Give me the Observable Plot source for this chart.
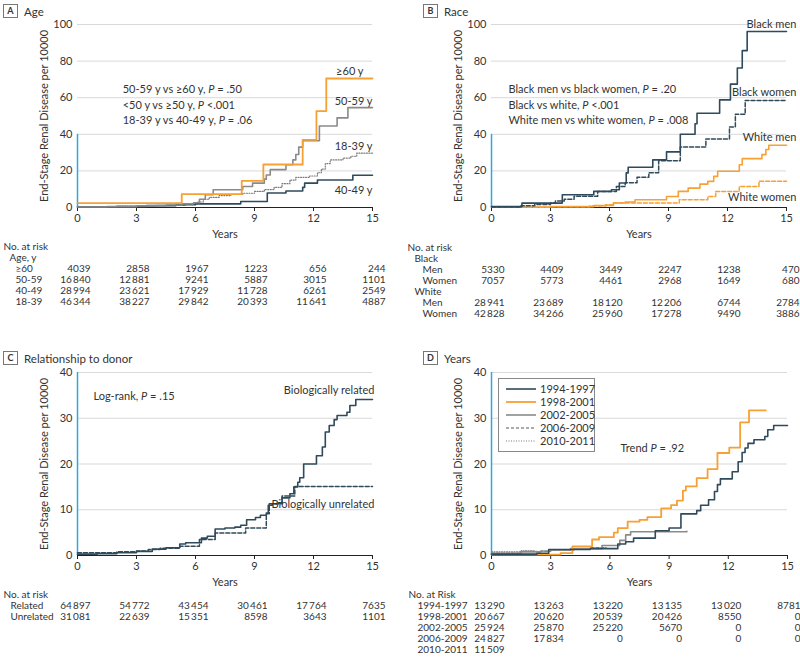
<!DOCTYPE html>
<html><head><meta charset="utf-8">
<script src="https://cdn.jsdelivr.net/npm/d3@7"></script>
<script src="https://cdn.jsdelivr.net/npm/@observablehq/plot@0.6"></script>
<style>
body{margin:0;background:#fff;}
#fig{position:relative;width:800px;height:659px;font-family:Lato,"Open Sans",sans-serif;color:#333;overflow:hidden;}
.ptitle{position:absolute;font-size:11.5px;display:flex;align-items:center;color:#333;white-space:nowrap;}
.ptitle .box{display:inline-block;box-sizing:border-box;border:1px solid #777;width:15px;height:14px;line-height:12px;text-align:center;font-size:9px;font-weight:bold;margin-right:6px;}
.legend{position:absolute;box-sizing:border-box;border:1px solid #888;background:#fff;font-size:11px;padding:3px 0 0 7px;white-space:nowrap;}
.legend .it{display:flex;align-items:center;height:13px;white-space:nowrap;}
.legend svg{margin-right:4px;flex:none;}
</style></head><body><div id="fig"></div><script>
// ---------------- DATA ----------------
const xTicks = [0, 3, 6, 9, 12, 15];
const riskYears = [0, 3, 6, 9, 12, 15];

// Panel A: Age  [year, cumulative ESRD per 10000]
const ageGE60 = [[0,2.4],[5.3,7.3],[8.35,14.5],[9.45,23.5],[11.45,37],[12.15,52.7],[12.65,70.5],[15,70.5]];
const age5059 = [[0,0.3],[1.5,0.5],[3,0.9],[4.5,1.4],[5.3,2],[5.9,2.6],[6.2,4.5],[6.5,7],[6.9,9.7],[8.4,11.5],[8.9,13.3],[9.5,15.5],[9.6,17.8],[9.8,20.7],[10.6,23.4],[10.95,26],[11.1,29],[11.25,33],[11.45,36.5],[12.3,44.5],[13.2,49],[13.75,54.6],[15,54.6]];
const age1839 = [[0,0.4],[2,0.7],[4,1.2],[5.5,2],[6.1,3],[6.4,4.5],[6.7,5.5],[7.2,6.5],[7.8,7.2],[8.4,7.8],[9,8.8],[9.5,9.8],[10,11],[10.4,13],[10.8,15],[11.1,16.5],[11.8,17.2],[12.2,19],[12.4,21],[12.6,24],[12.85,26],[13.5,27],[13.9,28],[14.2,29.7],[15,29.7]];
const age4049 = [[0,0.2],[2,0.5],[3.5,1],[5,1.5],[6,2],[8.3,3.3],[9.65,7.9],[10.6,9],[11.45,11],[11.55,13.3],[12.2,15],[14,17.6],[15,17.6]];
const ageNotes = ["50-59 y vs ≥60 y, P = .50", "<50 y vs ≥50 y, P <.001", "18-39 y vs 40-49 y, P = .06"];
const ageRowLabels = ["≥60", "50-59", "40-49", "18-39"];
const ageRisk = [
  [4039, 2858, 1967, 1223, 656, 244],
  [16840, 12881, 9241, 5887, 3015, 1101],
  [28994, 23621, 17929, 11728, 6261, 2549],
  [46344, 38227, 29842, 20393, 11641, 4887]
];

// Panel B: Race
const blackMen = [[0,0.5],[1.55,2.4],[3.6,7],[5.2,8.8],[6.1,9.7],[6.5,13.4],[6.85,18.9],[6.95,22],[8.2,26],[8.9,30.4],[9.6,40],[10.35,45.8],[10.45,51.5],[11.6,58.8],[12.15,67.4],[12.5,76.2],[12.75,85.7],[13,96.2],[15,96.2]];
const blackWomen = [[0,0.3],[1.5,1],[2.2,1.7],[3,2.5],[3.25,3.5],[3.7,4.5],[4.2,6.2],[5.4,8.8],[6.35,11.5],[6.8,13.5],[7.4,16.5],[8,19],[8.5,25.5],[9.6,33],[10.9,37.5],[12.1,44],[12.4,51],[12.9,58.5],[15,58.5]];
const whiteMen = [[0,0.3],[3,0.5],[5.2,1.1],[6.2,2.5],[6.8,3],[7.3,4.2],[8.9,6],[9.5,8.8],[10,10.6],[10.6,12.8],[11,14.3],[11.3,17],[11.5,19.8],[12.6,23.4],[12.75,26.7],[13.75,28.9],[13.95,31.7],[14.1,34],[15,34]];
const whiteWomen = [[0,0.2],[3,0.4],[5,0.8],[5.8,1.5],[6.2,2.5],[9.55,4.2],[11,6],[11.4,8.8],[12.6,11.5],[13.6,14.3],[15,14.3]];
const raceNotes = ["Black men vs black women, P = .20", "Black vs white, P <.001", "White men vs white women, P = .008"];
const raceGroups = ["Black", "White"];
const raceSexes = ["Men", "Women"];
const raceRisk = [
  [5330, 4409, 3449, 2247, 1238, 470],
  [7057, 5773, 4461, 2968, 1649, 680],
  [28941, 23689, 18120, 12206, 6744, 2784],
  [42828, 34266, 25960, 17278, 9490, 3886]
];

// Panel C: Relationship to donor
const related = [[0,0.3],[1,0.4],[2,0.6],[3,0.9],[3.8,1.4],[4.5,1.7],[5.2,2.5],[5.5,2.8],[6.3,3.8],[6.6,4.2],[7,5.8],[7.5,6],[8,6.2],[8.3,6.6],[8.6,7.8],[9.05,8.3],[9.3,8.8],[9.6,9.3],[9.7,11],[9.9,11.3],[10.2,11.5],[10.4,12.6],[10.8,13.5],[11,15],[11.2,16],[11.3,17],[11.5,20],[12.15,21.8],[12.45,23.7],[12.6,27],[12.8,28.4],[13.05,29.7],[13.2,30.6],[13.7,31.3],[13.85,32.8],[14.15,34.1],[15,34.1]];
const unrelated = [[0,0.6],[2,0.8],[3,1],[3.6,1.3],[4.2,1.6],[5.2,2],[6.2,3.5],[7,4.9],[8.55,6],[9.6,9.1],[9.75,11.3],[10.4,13],[11.05,15.1],[15,15.1]];
const donorRowLabels = ["Related", "Unrelated"];
const donorRisk = [
  [64897, 54772, 43454, 30461, 17764, 7635],
  [31081, 22639, 15351, 8598, 3643, 1101]
];

// Panel D: Years of donation
const eraLabels = ["1994-1997", "1998-2001", "2002-2005", "2006-2009", "2010-2011"];
const era9497 = [[0,0.3],[2.3,0.5],[2.9,1.3],[5,1.5],[6.4,2.5],[6.8,3],[7.2,3.8],[8.3,5.4],[9,6],[9.6,9.1],[10.4,9.8],[10.6,11],[11,12.2],[11.3,14],[11.45,15.5],[11.6,16.75],[12.2,18.3],[12.5,20.5],[12.7,22.5],[12.85,23.5],[13,24.5],[13.3,25.3],[13.85,26],[14,27.5],[14.3,28.4],[15,28.4]];
const era9801 = [[0,0.2],[3.5,0.5],[4.1,2],[5.1,3.5],[5.45,4],[6.2,5],[6.4,6],[6.9,7.4],[7.5,7.8],[7.9,8.4],[8.6,10.3],[9.1,11],[9.4,12],[9.7,14.2],[9.85,15.1],[10.4,16.9],[10.95,18.9],[11.45,22.4],[12.05,23.6],[12.6,29.1],[13.05,31.7],[13.9,31.7]];
const era0205 = [[0,0.5],[1.5,0.8],[2.5,1],[3,1.2],[4,1.5],[5.6,2.2],[6.5,3.3],[6.8,4.5],[7.05,5.2],[9.9,5.3]];
const era0609 = [[0,0.5],[1.5,0.9],[3,1.2],[4.2,1.5],[5,1.7],[5.8,1.8]];
const era1011 = [[0,0.8],[1.5,1],[2.2,1.1]];
const eraRisk = [
  [13290, 13263, 13220, 13135, 13020, 8781],
  [20667, 20620, 20539, 20426, 8550, 0],
  [25924, 25870, 25220, 5670, 0, 0],
  [24827, 17834, 0, 0, 0, 0],
  [11509]
];

// ---------------- DRAWING ----------------
const FONT = "Lato, 'Open Sans', sans-serif";
const SLATE = "#2f4a5b", ORANGE = "#f7a033", GRAY = "#8a8a8a", DOT = "#7a7a7a";
const fig = document.getElementById("fig");
const baseStyle = {background: "transparent", fontFamily: FONT, fontSize: "11px", color: "#333", overflow: "visible"};
const tableStyle = {...baseStyle, fontSize: "10px"};
const fmt = n => n >= 10000 ? d3.format(",")(n).replace(",", "\u2009") : String(n);

function place(el, left, top) {
  el.style.position = "absolute"; el.style.left = left + "px"; el.style.top = top + "px";
  fig.appendChild(el);
}
function italicP(svg) {
  svg.querySelectorAll("text").forEach(t => {
    if (t.children.length) return;
    const s = t.textContent, i = s.search(/P [=<]/);
    if (i < 0) return;
    t.textContent = "";
    const NS = "http://www.w3.org/2000/svg";
    [[s.slice(0, i), null], ["P", "italic"], [s.slice(i + 1), null]].forEach(([txt, st]) => {
      if (!txt) return;
      const sp = document.createElementNS(NS, "tspan");
      if (st) sp.setAttribute("font-style", st);
      sp.textContent = txt; t.appendChild(sp);
    });
  });
}
function title(letter, text, left, top) {
  const d = document.createElement("div");
  d.className = "ptitle";
  d.innerHTML = `<span class="box">${letter}</span><span>${text}</span>`;
  place(d, left, top);
}
function chart({left, top, ml, mr, ymax, yticks, lines, notes}) {
  const svg = Plot.plot({
    width: 400, height: 241, marginLeft: ml, marginRight: mr, marginTop: 24, marginBottom: 34,
    style: baseStyle,
    x: {domain: [0, 15]},
    y: {domain: [0, ymax]},
    marks: [
      Plot.gridY({ticks: yticks.filter(d => d > 0), stroke: "#d9d9d9", strokeOpacity: 1}),
      Plot.axisY({ticks: yticks, tickSize: 0, tickPadding: 5, label: "End-Stage Renal Disease per 10000", labelAnchor: "center", labelOffset: 37, labelArrow: "none", fill: "#333"}),
      Plot.axisX({ticks: xTicks, tickSize: 4, tickPadding: 3, label: "Years", labelAnchor: "center", labelOffset: 30, labelArrow: "none", stroke: "#222", fill: "#333"}),
      Plot.ruleY([0], {stroke: "#222", strokeWidth: 1}),
      Plot.ruleX([0], {y1: 0, y2: 40, stroke: "#2aa8e0", strokeWidth: 1.5}),
      ...lines.map(l => Plot.line(l.data, {x: d => d[0], y: d => d[1], curve: "step-after", stroke: l.stroke, strokeWidth: l.w, strokeDasharray: l.dash})),
      ...notes
    ]
  });
  italicP(svg);
  place(svg, left, top);
}
function table({left, top, ml, mr, height, rows}) {
  const cells = rows.filter(r => r.values).flatMap(r => r.values.map((n, i) => ({key: r.key, t: riskYears[i], n})));
  const xs = [...new Set(rows.map(r => r.x))];
  const svg = Plot.plot({
    width: 400, height, marginLeft: ml, marginRight: mr, marginTop: 9, marginBottom: 10,
    style: tableStyle,
    x: {domain: [0, 15], axis: null},
    y: {type: "point", domain: rows.map(r => r.key), axis: null, padding: 0},
    marks: [
      Plot.text(cells, {x: "t", y: "key", text: d => fmt(d.n), textAnchor: "end", dx: 13, fill: "#333"}),
      ...xs.map(px => Plot.text(rows.filter(r => r.x === px), {y: "key", text: "label", frameAnchor: "left", textAnchor: "start", dx: px - ml, fill: "#333"}))
    ]
  });
  place(svg, left, top);
}
const noteStack = (lines, x, ys) => Plot.text(lines.map((t, i) => ({t, y: ys[i]})), {x: () => x, y: "y", text: "t", textAnchor: "start", fill: "#333"});
const endLabel = (items, anchor) => Plot.text(items, {x: "x", y: "y", text: "t", textAnchor: anchor, fill: "#333"});

// Panel A
title("A", "Age", 3, 4);
chart({left: 0, top: 0, ml: 77, mr: 28, ymax: 100, yticks: [0, 20, 40, 60, 80, 100],
  lines: [
    {data: age1839, stroke: DOT, w: 1.2, dash: "1,1.5"},
    {data: age4049, stroke: SLATE, w: 1.6},
    {data: age5059, stroke: GRAY, w: 1.6},
    {data: ageGE60, stroke: ORANGE, w: 1.8}
  ],
  notes: [
    noteStack(ageNotes, 2.3, [64.3, 56, 47.8]),
    endLabel([{x: 13.15, y: 74.5, t: "≥60 y"}], "start"),
    endLabel([{x: 15, y: 58.2, t: "50-59 y"}, {x: 15, y: 33.5, t: "18-39 y"}, {x: 15, y: 9.3, t: "40-49 y"}], "end")
  ]});
table({left: 0, top: 236, ml: 77, mr: 28, height: 76, rows: [
  {key: "h", label: "No. at risk", x: 3},
  {key: "g", label: "Age, y", x: 9},
  ...ageRowLabels.map((l, i) => ({key: "r" + i, label: l, x: 15, values: ageRisk[i]}))
]});

// Panel B
title("B", "Race", 423, 4);
chart({left: 400, top: 0, ml: 91, mr: 14, ymax: 100, yticks: [0, 20, 40, 60, 80, 100],
  lines: [
    {data: whiteWomen, stroke: ORANGE, w: 1.5, dash: "4,2"},
    {data: whiteMen, stroke: ORANGE, w: 1.6},
    {data: blackWomen, stroke: SLATE, w: 1.5, dash: "4,2"},
    {data: blackMen, stroke: SLATE, w: 1.6}
  ],
  notes: [
    noteStack(raceNotes, 0.86, [64.3, 56, 47.8]),
    endLabel([{x: 15.5, y: 100, t: "Black men"}, {x: 15.5, y: 62.6, t: "Black women"}, {x: 15.5, y: 38.5, t: "White men"}, {x: 15.5, y: 5.5, t: "White women"}], "end")
  ]});
table({left: 400, top: 236, ml: 91, mr: 14, height: 89, rows: [
  {key: "h", label: "No. at risk", x: 7},
  {key: "g0", label: raceGroups[0], x: 14},
  {key: "r0", label: raceSexes[0], x: 22, values: raceRisk[0]},
  {key: "r1", label: raceSexes[1], x: 22, values: raceRisk[1]},
  {key: "g1", label: raceGroups[1], x: 14},
  {key: "r2", label: raceSexes[0], x: 22, values: raceRisk[2]},
  {key: "r3", label: raceSexes[1], x: 22, values: raceRisk[3]}
]});

// Panel C
title("C", "Relationship to donor", 3, 351);
chart({left: 0, top: 348, ml: 77, mr: 28, ymax: 40, yticks: [0, 10, 20, 30, 40],
  lines: [
    {data: unrelated, stroke: SLATE, w: 1.5, dash: "4,2"},
    {data: related, stroke: SLATE, w: 1.6}
  ],
  notes: [
    noteStack(["Log-rank, P = .15"], 0.81, [34.75]),
    endLabel([{x: 15.1, y: 36.1, t: "Biologically related"}, {x: 15.1, y: 11.1, t: "Biologically unrelated"}], "end")
  ]});
table({left: 0, top: 584, ml: 77, mr: 28, height: 42, rows: [
  {key: "h", label: "No. at risk", x: 3},
  ...donorRowLabels.map((l, i) => ({key: "r" + i, label: l, x: 10, values: donorRisk[i]}))
]});

// Panel D
title("D", "Years", 423, 351);
const eraStyles = [
  {stroke: SLATE, w: 1.6},
  {stroke: ORANGE, w: 1.8},
  {stroke: GRAY, w: 1.6},
  {stroke: "#555", w: 1, dash: "3,2"},
  {stroke: DOT, w: 1.2, dash: "1,1.5"}
];
const eraSeries = [era9497, era9801, era0205, era0609, era1011];
chart({left: 400, top: 348, ml: 91, mr: 13, ymax: 40, yticks: [0, 10, 20, 30, 40],
  lines: eraSeries.map((d, i) => ({data: d, ...eraStyles[i]})).reverse(),
  notes: [noteStack(["Trend P = .92"], 6.54, [23.4])]
});
table({left: 400, top: 584, ml: 91, mr: 13, height: 76, rows: [
  {key: "h", label: "No. at Risk", x: 8},
  ...eraLabels.map((l, i) => ({key: "r" + i, label: l, x: 17, values: eraRisk[i]}))
]});
// legend
const leg = document.createElement("div");
leg.className = "legend";
leg.style.width = "97px"; leg.style.height = "74px";
leg.innerHTML = eraLabels.map((l, i) => {
  const s = eraStyles[i];
  return `<div class="it"><svg width="30" height="6"><line x1="0" x2="30" y1="3" y2="3" stroke="${s.stroke}" stroke-width="${s.w}" ${s.dash ? `stroke-dasharray="${s.dash}"` : ""}/></svg><span>${l}</span></div>`;
}).join("");
place(leg, 498, 378);
</script></body></html>
